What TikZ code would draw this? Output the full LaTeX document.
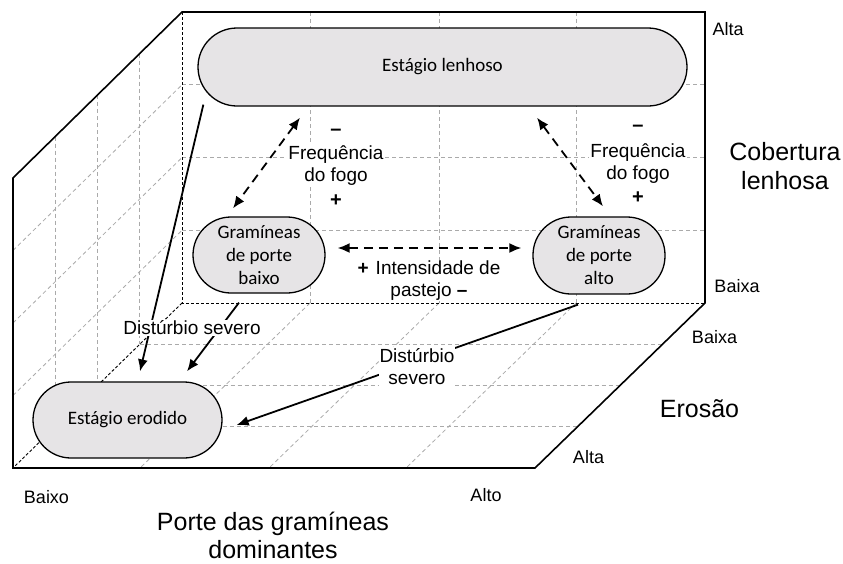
\documentclass[tikz,border=0pt]{standalone}
\usepackage{fontspec}
\setmainfont{Liberation Sans}
\newfontfamily\carlito{Carlito}
\usetikzlibrary{arrows.meta,calc}
\definecolor{nodefill}{RGB}{230,228,230}
\definecolor{gridgray}{RGB}{170,170,170}
\begin{document}
\begin{tikzpicture}[x=1pt,y=-1pt,
  edge/.style={line width=1.6pt, line join=miter},
  hidden/.style={line width=0.9pt, dash pattern=on 3pt off 2pt},
  gridline/.style={gridgray, line width=0.8pt, dash pattern=on 4pt off 3pt},
  stage/.style={draw, line width=1.3pt, fill=nodefill, rounded corners=#1, inner sep=0pt,
    font=\carlito\fontsize{19}{23}\selectfont, align=center},
  arr/.style={line width=1.8pt, -{Latex[length=12pt,width=10pt]}},
  darr/.style={line width=1.8pt, {Latex[length=12pt,width=10pt]}-{Latex[length=12pt,width=10pt]}, dash pattern=on 9pt off 6pt},
  lab/.style={font=\fontsize{19}{22}\selectfont, align=center, fill=white, inner sep=1pt},
  sign/.style={font=\fontsize{20}{22}\selectfont\bfseries, inner sep=1pt},
  small/.style={font=\fontsize{18}{22}\selectfont, anchor=base, inner sep=0pt},
  big/.style={font=\fontsize{25}{29}\selectfont, align=center, inner sep=0pt}
]
\useasboundingbox (0,0) rectangle (843,563);

% ---- grid: back face
\foreach \x in {310,439,576} \draw[gridline] (\x,12) -- (\x,303);
\foreach \y in {84.75,157.5,230.25} \draw[gridline] (182,\y) -- (705,\y);
% ---- grid: left wall
\foreach \k in {1,2,3} {
  \draw[gridline] ({13+42.25*\k},{178-41.5*\k}) -- ({13+42.25*\k},{468-41.5*\k});
  \draw[gridline] (13,{178+72.5*\k}) -- (182,{12+72.75*\k});
}
% ---- grid: floor
\foreach \k in {1,2,3} {
  \draw[gridline] ({182-42.25*\k},{303+41.25*\k}) -- ({705-42.25*\k},{303+41.25*\k});
}
\foreach \x in {310,439,576} \draw[gridline] (\x,303) -- ({\x-170},468);

% ---- hidden edges
\draw[hidden] (182,12) -- (182,303) -- (705,303);
\draw[hidden] (182,303) -- (13,468);
% ---- visible edges
\draw[edge] (13,178) -- (182,12) -- (705,12) -- (705,303) -- (535,468) -- (13,468) -- cycle;

% ---- stages
\node[stage=39pt, minimum width=489pt, minimum height=78pt] (lenhoso) at (442.5,67) {Estágio lenhoso};
\node[stage=38pt, minimum width=132pt, minimum height=76pt] (baixo) at (259,255) {Gramíneas\\de porte\\baixo};
\node[stage=38pt, minimum width=132pt, minimum height=77pt] (alto) at (599,255.5) {Gramíneas\\de porte\\alto};
\node[stage=38pt, minimum width=189pt, minimum height=76pt] (erodido) at (127.5,420) {Estágio erodido};

% ---- connectors
\draw[arr] ([shift={(6,-2)}]lenhoso.south west) -- ([shift={(12.5,-10)}]erodido.north);
\draw[arr] ([shift={(-20,9)}]baixo.south) -- ([shift={(59.5,-10)}]erodido.north);
\draw[arr] ([shift={(-21,10)}]alto.south) -- ([shift={(14,5)}]erodido.east);
\draw[darr] ([shift={(-142.5,11)}]lenhoso.south) -- ([shift={(-26,-8)}]baixo.north);
\draw[darr] ([shift={(94.5,11)}]lenhoso.south) -- ([shift={(4,-10)}]alto.north);
\draw[darr] ([shift={(12,-7)}]baixo.east) -- ([shift={(-11,-7.5)}]alto.west);

% ---- connector labels
\node[sign] (m1) at (336,132) {–};
\node[lab] (fq1) at (336,166) {Frequência\\do fogo};
\node[sign] (p1) at (336,201) {+};
\node[sign] (m2) at (638,128) {–};
\node[lab] (fq2) at (638,164) {Frequência\\do fogo};
\node[sign] (p2) at (638,198) {+};
\node[lab] (int) at (429,280.5) {\textbf{+}\hspace{7pt}Intensidade de\\pastejo \textbf{–}};
\node[lab] (dist1) at (192,328) {Distúrbio severo};
\node[lab] (dist2) at (417,366.5) {Distúrbio\\severo};

% ---- axis labels
\node[small] (altaA) at (728,35) {Alta};
\node[small] (baixaA) at (737,292) {Baixa};
\node[big] (cob) at (785,166) {Cobertura\\lenhosa};
\node[small] (baixaB) at (714.5,343) {Baixa};
\node[big, anchor=base] (eros) at (699.5,417) {Erosão};
\node[small] (altaB) at (588.5,463) {Alta};
\node[small] (baixoC) at (46.5,503) {Baixo};
\node[small] (altoC) at (486,501) {Alto};
\node[big, font=\fontsize{25}{28}\selectfont] (porte) at (273,535) {Porte das gramíneas\\dominantes};
\end{tikzpicture}
\end{document}
